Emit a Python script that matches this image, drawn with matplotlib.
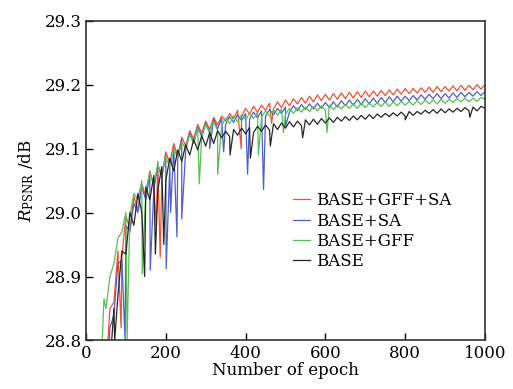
import numpy as np
import matplotlib
matplotlib.use("Agg")
import matplotlib.pyplot as plt

plt.rcParams['font.family'] = ['DejaVu Serif']
plt.rcParams['mathtext.fontset'] = 'dejavuserif'

epochs = list(range(40, 1001, 10))

red_vals = [
    28.71, 28.75, 28.85, 28.86, 28.94, 28.93, 28.995, 28.975, 29.025, 29.005,
    29.045, 29.025, 29.065, 29.04, 29.08, 29.055, 29.095, 29.078, 29.108, 29.088,
    29.118, 29.104, 29.128, 29.115, 29.138, 29.124, 29.143, 29.13, 29.149, 29.137,
    29.151, 29.143, 29.155, 29.147, 29.16, 29.15, 29.163, 29.154, 29.166, 29.157,
    29.168, 29.16, 29.171, 29.162, 29.173, 29.164, 29.176, 29.167, 29.178, 29.17,
    29.18, 29.171, 29.182, 29.173, 29.184, 29.175, 29.185, 29.176, 29.186, 29.177,
    29.187, 29.178, 29.188, 29.179, 29.189, 29.18, 29.19, 29.181, 29.19, 29.182,
    29.191, 29.183, 29.192, 29.184, 29.193, 29.185, 29.194, 29.186, 29.194, 29.187,
    29.195, 29.188, 29.196, 29.188, 29.197, 29.189, 29.197, 29.19, 29.198, 29.19,
    29.199, 29.191, 29.199, 29.192, 29.2, 29.193, 29.2]
red_spike_ep = [88, 176, 186, 389, 465]
red_spike_val = [28.82, 28.98, 28.93, 29.10, 29.14]

blue_vals = [
    28.67, 28.72, 28.82, 28.84, 28.92, 28.925, 28.98, 28.97, 29.015, 29.0,
    29.04, 29.02, 29.06, 29.035, 29.075, 29.055, 29.09, 29.072, 29.103, 29.085,
    29.114, 29.098, 29.125, 29.11, 29.134, 29.119, 29.14, 29.126, 29.146, 29.131,
    29.147, 29.138, 29.15, 29.141, 29.153, 29.144, 29.155, 29.146, 29.157, 29.148,
    29.159, 29.151, 29.161, 29.153, 29.163, 29.155, 29.165, 29.157, 29.167, 29.159,
    29.169, 29.161, 29.17, 29.162, 29.171, 29.163, 29.172, 29.164, 29.173, 29.165,
    29.175, 29.167, 29.176, 29.168, 29.177, 29.169, 29.178, 29.17, 29.179, 29.171,
    29.18, 29.172, 29.181, 29.173, 29.182, 29.174, 29.182, 29.175, 29.183, 29.176,
    29.184, 29.177, 29.185, 29.178, 29.186, 29.178, 29.186, 29.179, 29.187, 29.18,
    29.188, 29.181, 29.188, 29.182, 29.189, 29.183, 29.189]
blue_spike_ep = [98, 161, 201, 212, 228, 240, 310, 345, 405, 445, 500]
blue_spike_val = [28.80, 28.91, 28.912, 29.0, 28.962, 28.99, 29.10, 29.095, 29.06, 29.036, 29.135]

green_vals = [
    28.79, 28.85, 28.9, 28.92, 28.96, 28.97, 29.0, 28.995, 29.03, 29.02,
    29.05, 29.035, 29.062, 29.045, 29.075, 29.058, 29.088, 29.07, 29.1, 29.085,
    29.11, 29.1, 29.122, 29.108, 29.132, 29.118, 29.138, 29.124, 29.142, 29.128,
    29.136, 29.148, 29.139, 29.151, 29.142, 29.153, 29.145, 29.155, 29.147, 29.157,
    29.149, 29.159, 29.151, 29.161, 29.152, 29.162, 29.154, 29.163, 29.155, 29.164,
    29.157, 29.165, 29.158, 29.166, 29.159, 29.167, 29.16, 29.168, 29.161, 29.168,
    29.162, 29.169, 29.163, 29.17, 29.163, 29.171, 29.164, 29.171, 29.165, 29.172,
    29.166, 29.173, 29.166, 29.173, 29.167, 29.174, 29.168, 29.174, 29.168, 29.175,
    29.169, 29.176, 29.17, 29.176, 29.17, 29.177, 29.171, 29.177, 29.172, 29.178,
    29.173, 29.179, 29.173, 29.179, 29.174, 29.18, 29.177]
green_spike_ep = [45, 103, 141, 284, 330, 432, 495, 604]
green_spike_val = [28.865, 28.80, 28.904, 29.045, 29.06, 29.09, 29.125, 29.125]

black_vals = [
    28.62, 28.71, 28.76, 28.85, 28.87, 28.94, 28.935, 29.0, 28.98, 29.03,
    29.0, 29.04, 29.02, 29.058, 29.035, 29.072, 29.05, 29.085, 29.065, 29.098,
    29.08, 29.106, 29.09, 29.114, 29.098, 29.12, 29.104, 29.125, 29.108, 29.128,
    29.117, 29.127, 29.119, 29.13, 29.121, 29.132, 29.123, 29.133, 29.125, 29.135,
    29.127, 29.137, 29.129, 29.139, 29.13, 29.14, 29.132, 29.142, 29.134, 29.143,
    29.136, 29.145, 29.137, 29.146, 29.138, 29.147, 29.14, 29.148, 29.141, 29.149,
    29.143, 29.15, 29.144, 29.151, 29.145, 29.152, 29.146, 29.153, 29.147, 29.154,
    29.149, 29.155, 29.15, 29.156, 29.151, 29.157, 29.151, 29.158, 29.152, 29.158,
    29.154, 29.16, 29.155, 29.161, 29.155, 29.162, 29.156, 29.162, 29.157, 29.163,
    29.158, 29.164, 29.159, 29.165, 29.159, 29.166, 29.163]
black_spike_ep = [72, 147, 174, 195, 361, 412, 462, 543, 800, 962]
black_spike_val = [28.80, 28.90, 28.935, 28.95, 29.09, 29.085, 29.104, 29.117, 29.145, 29.149]

series = [
    ("BASE+GFF+SA", red_vals, red_spike_ep, red_spike_val, "#f4502e"),
    ("BASE+SA", blue_vals, blue_spike_ep, blue_spike_val, "#4f5fc8"),
    ("BASE+GFF", green_vals, green_spike_ep, green_spike_val, "#55c055"),
    ("BASE", black_vals, black_spike_ep, black_spike_val, "#262626"),
]

x_ticks = [0, 200, 400, 600, 800, 1000]
y_ticks = [28.8, 28.9, 29.0, 29.1, 29.2, 29.3]

fig = plt.figure(figsize=(5.13, 3.89), dpi=100)
ax = fig.add_axes([0.1676, 0.1247, 0.7778, 0.8221])

for label, vals, sep, sval, color in series:
    x = np.array(epochs + sep, dtype=float)
    y = np.array(vals + sval, dtype=float)
    order = np.argsort(x, kind="stable")
    ax.plot(x[order], y[order], color=color, lw=0.9, label=label)

ax.set_xlim(0, 1000)
ax.set_ylim(28.8, 29.3)
ax.set_xticks(x_ticks)
ax.set_yticks(y_ticks)
ax.set_yticklabels([f"{v:.1f}" for v in y_ticks])
ax.tick_params(direction="in", length=5, width=1, labelsize=12, pad=3,
               top=False, right=False)
for s in ax.spines.values():
    s.set_linewidth(1.2)
    s.set_color("#333333")

ax.set_xlabel("Number of epoch", fontsize=12, labelpad=0)
ax.set_ylabel(r"$R_{\mathrm{PSNR}}$ /dB", fontsize=12, labelpad=6)

leg = ax.legend(loc="upper left", bbox_to_anchor=(0.49, 0.50), frameon=False,
                fontsize=12, handlelength=1.0, handletextpad=0.35,
                labelspacing=0.2, borderpad=0.2)

fig.savefig("out.png", dpi=100)
